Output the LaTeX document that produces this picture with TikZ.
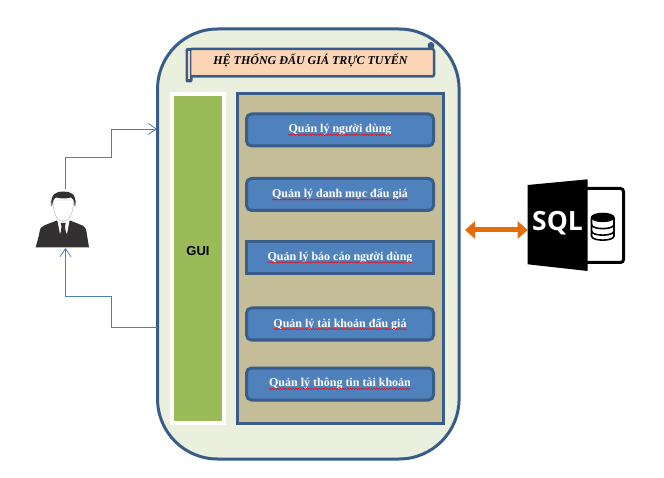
\documentclass[tikz,border=0pt]{standalone}
\usepackage{fontspec}
\setmainfont{Liberation Serif}
\newfontfamily\guifont{Liberation Sans}
\newfontfamily\sqlfont{Open Sans}
\usetikzlibrary{positioning,arrows.meta,shadows,decorations.pathmorphing}

\definecolor{framecol}{RGB}{56,93,138}
\definecolor{framefill}{RGB}{235,239,222}
\definecolor{panelfill}{RGB}{196,189,151}
\definecolor{boxfill}{RGB}{79,129,189}
\definecolor{guifill}{RGB}{155,187,89}
\definecolor{titlefill}{RGB}{251,213,181}
\definecolor{linkcol}{RGB}{74,126,187}
\definecolor{dbcol}{RGB}{228,108,10}
\definecolor{usercol}{RGB}{50,48,48}

\tikzset{
    module/.style={draw=framecol,line width=3pt,fill=boxfill,rounded corners=5pt,
        minimum width=187pt,minimum height=32pt,inner sep=0pt,outer sep=0pt},
    modtext/.style={inner sep=0pt,outer sep=0pt,text=white,
        font=\fontsize{12}{14}\selectfont\bfseries},
    squiggle/.style={draw=red,line width=0.5pt,decorate,
        decoration={snake,amplitude=0.6pt,segment length=2.6pt}},
    flow/.style={draw=linkcol,line width=0.8pt,-{Straight Barb[length=8pt,width=11pt]}}
}

\begin{document}
\begin{tikzpicture}[x=1pt,y=-1pt,node distance=64pt,on grid]
    \useasboundingbox (0,0) rectangle (664,478);

    % system frame
    \node[draw=framecol,line width=3pt,fill=framefill,rounded corners=60pt,
          minimum width=301.5pt,minimum height=430pt,outer sep=1pt] (system) at (308.3,244) {};

    % title scroll
    \fill[framecol,rounded corners=2pt] (185.5,48) rectangle (192.5,82.5);
    \fill[framecol] (431,45.5) circle (3.5);
    \draw[framecol,line width=2.5pt,fill=titlefill,rounded corners=2pt]
        (190,49) -- (434,49) -- (434,76.5) -- (190,76.5) -- cycle;
    \fill[titlefill] (188,51) rectangle (190,79);
    \node[font=\fontsize{12}{14}\selectfont\bfseries\itshape] (title) at (310.5,60) {HỆ THỐNG ĐẤU GIÁ TRỰC TUYẾN};

    % gui column
    \node[draw=white,line width=4pt,fill=guifill,minimum width=52pt,minimum height=329pt,
          outer sep=0pt,drop shadow={shadow xshift=1pt,shadow yshift=-1pt,opacity=0.35}] (gui) at (198,258.5) {};
    \node[font=\guifont\fontsize{13}{15}\selectfont\bfseries] (guitext) at (198,251) {GUI};

    % module panel
    \node[draw=framecol,line width=3pt,fill=panelfill,minimum width=205.6pt,minimum height=330pt,
          outer sep=0pt] (panel) at (340.5,258.7) {};
    \node[module] (users) at (340,130) {};
    \node[module] (catalog) [below=64.5pt of users] {};
    \node[module,sharp corners] (reports) [below=63pt of catalog] {};
    \node[module] (auction) [below=66.5pt of reports] {};
    \node[module] (account) [below=60pt of auction] {};

    \node[modtext] (userstext) at (users) {Quản lý người dùng};
    \node[modtext] (catalogtext) at (catalog) {Quản lý danh mục đấu giá};
    \node[modtext] (reportstext) at (reports) {Quản lý báo cáo người dùng};
    \node[modtext] (auctiontext) at (auction) {Quản lý tài khoản đấu giá};
    \node[modtext] (accounttext) at (account) {Quản lý thông tin tài khoản};
    \foreach \t in {userstext,catalogtext,reportstext,auctiontext,accounttext}
        \draw[squiggle] ([yshift=-2pt]\t.base west) -- ([yshift=-2pt]\t.base east);

    % user figure
    \node[minimum width=53pt,minimum height=59pt,inner sep=0pt,outer sep=0pt] (user) at (65.5,218.5) {};
    \fill[usercol] (35.7,247.3) -- (39,235) .. controls (40,228) and (41,226.5) .. (44,225.5)
        -- (56.7,220.5) -- (63.3,224) -- (70,220.5) -- (82.5,225.5)
        .. controls (85,226.5) and (86,228) .. (87,235) -- (89,247.3) -- cycle;
    \fill[gray!60] (51.5,203) ellipse (1.2 and 3.5);
    \fill[gray!60] (75,203) ellipse (1.2 and 3.5);
    \draw[gray!60,fill=white,line width=0.4pt] (53,200) .. controls (53,213) and (57,221.5) .. (63.3,221.5)
        .. controls (69.5,221.5) and (73.5,213) .. (73.5,200) -- cycle;
    \fill[usercol] (51.7,206) .. controls (50,193) and (57,191.5) .. (63.3,191.5)
        .. controls (70,191.5) and (77,193) .. (75,206)
        .. controls (74,200) and (73,198) .. (71,197.5)
        .. controls (65,199) and (60,198.5) .. (56,197.5)
        .. controls (54,198) and (53,201) .. (51.7,206) -- cycle;
    \fill[white] (57.5,220.5) -- (63.3,223.5) -- (69.5,220.5) -- (67,234) -- (63.3,226) -- (60,234) -- cycle;
    \fill[usercol] (60.7,223) -- (65.7,223) -- (65,226.5) -- (66,234) -- (63.3,237) -- (60.5,234) -- (61.5,226.5) -- cycle;

    % user links
    \coordinate (inbend) at (111.5,157);
    \coordinate (inend) at (157,129);
    \coordinate (outstart) at (157,327);
    \coordinate (outbend) at (111.5,296);
    \draw[flow] (user.north) |- (inbend) |- (inend);
    \draw[flow] (outstart) -| (outbend) |- (65.5,296) -- (user.south);

    % database icon
    \draw[black,line width=3pt,rounded corners=3pt] (580,188.5) -- (623.5,188.5) -- (623.5,262.5) -- (580,262.5);
    \fill[black] (527.7,185) -- (587.7,179.3) -- (587.7,271) -- (527.7,264.3) -- cycle;
    \node[font=\sqlfont\fontsize{26.5}{28}\selectfont\bfseries,text=white,inner sep=0pt] (sqltext) at (557.5,223) {SQL};
    \draw[black,line width=1.6pt,fill=white] (591.5,218) -- (591.5,236) .. controls (591.5,241.5) and (614,241.5) .. (614,236)
        -- (614,218) .. controls (614,212) and (591.5,212) .. (591.5,218) -- cycle;
    \fill[black] (591.5,218) .. controls (591.5,212) and (614,212) .. (614,218)
        .. controls (614,223.5) and (591.5,223.5) .. (591.5,218) -- cycle;
    \draw[black,line width=1.6pt] (591.5,224.5) .. controls (591.5,230) and (614,230) .. (614,224.5);
    \draw[black,line width=1.6pt] (591.5,231) .. controls (591.5,236.5) and (614,236.5) .. (614,231);

    % database link
    \node[minimum width=60pt,minimum height=85pt,inner sep=0pt,outer sep=0pt] (database) at (557.7,230) {};
    \coordinate (dbend) at (465,230);
    \draw[dbcol,line width=5pt,{Triangle[length=10pt,width=17pt]}-{Triangle[length=10pt,width=17pt]}] (dbend) -- (database.west);
\end{tikzpicture}
\end{document}
